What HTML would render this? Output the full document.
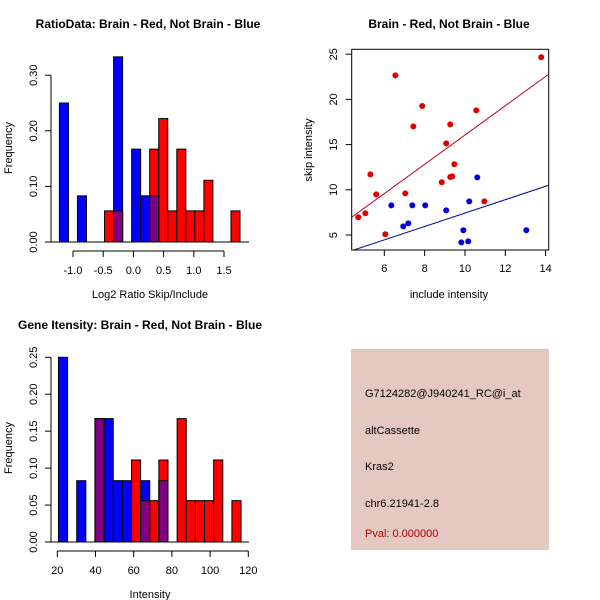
<!DOCTYPE html>
<html><head><meta charset="utf-8"><style>
body{margin:0;background:#fff;}
svg{display:block;font-family:"Liberation Sans",sans-serif;}
</style></head><body>
<svg id="s" width="600" height="600" viewBox="0 0 600 600">
<rect width="600" height="600" fill="#fff"/>
<text x="148" y="28" font-size="12" font-weight="bold" text-anchor="middle">RatioData: Brain - Red, Not Brain - Blue</text>
<text x="150" y="298" font-size="11" text-anchor="middle">Log2 Ratio Skip/Include</text>
<text transform="translate(12,148) rotate(-90)" font-size="11" text-anchor="middle">Frequency</text>
<text x="449" y="28" font-size="12" font-weight="bold" text-anchor="middle">Brain - Red, Not Brain - Blue</text>
<text x="449" y="298" font-size="11" text-anchor="middle">include intensity</text>
<text transform="translate(312,150) rotate(-90)" font-size="11" text-anchor="middle">skip intensity</text>
<text x="140" y="329" font-size="12" font-weight="bold" text-anchor="middle">Gene Itensity: Brain - Red, Not Brain - Blue</text>
<text x="150" y="598" font-size="11" text-anchor="middle">Intensity</text>
<text transform="translate(12,448) rotate(-90)" font-size="11" text-anchor="middle">Frequency</text>
<rect x="351" y="349" width="198" height="201" fill="#e6c8c2"/>
<g font-size="11">
<text x="365" y="397">G7124282@J940241_RC@i_at</text>
<text x="365" y="434">altCassette</text>
<text x="365" y="470">Kras2</text>
<text x="365" y="507">chr6.21941-2.8</text>
<text x="365" y="537" fill="#aa0000">Pval: 0.000000</text>
</g>
</svg>
<script>
// Ratio histogram data (bin index on shared grid)
const ratioBlueBins=[0,2,6,8,9,10];
const ratioBlueFreq=[0.25,0.083,0.333,0.167,0.083,0.083];
const ratioRedBins=[5,6,10,11,12,13,14,15,16,19];
const ratioRedFreq=[0.056,0.056,0.167,0.222,0.056,0.167,0.056,0.056,0.111,0.056];
const ratioXTicks=["-1.0","-0.5","0.0","0.5","1.0","1.5"];
const ratioYTicks=["0.00","0.10","0.20","0.30"];
// Intensity histogram data
const intBlueBins=[0,2,4,5,6,7,9,11];
const intBlueFreq=[0.25,0.083,0.167,0.167,0.083,0.083,0.083,0.083];
const intRedBins=[4,8,9,10,11,13,14,15,16,17,19];
const intRedFreq=[0.167,0.111,0.056,0.056,0.111,0.167,0.056,0.056,0.056,0.111,0.056];
const intXTicks=["20","40","60","80","100","120"];
const intYTicks=["0.00","0.05","0.10","0.15","0.20","0.25"];
// Scatter data
const redX=[4.71,5.06,5.31,5.60,6.05,6.55,7.04,7.44,7.88,8.85,9.07,9.27,9.27,9.37,9.47,10.56,10.96,13.78];
const redY=[6.96,7.40,11.71,9.50,5.08,22.66,9.61,17.02,19.27,10.83,15.14,17.24,11.42,11.49,12.82,18.79,8.72,24.66];
const blueX=[6.35,6.94,7.19,7.39,8.03,9.07,9.82,9.92,10.16,10.21,10.61,13.04];
const blueY=[8.28,5.96,6.29,8.28,8.28,7.73,4.19,5.52,4.30,8.72,11.38,5.52];
const redFit=[-0.13,1.619];
const blueFit=[0.015,0.741];
const scXTicks=["6","8","10","12","14"];
const scYTicks=["5","10","15","20","25"];

const NS="http://www.w3.org/2000/svg";
const svg=document.getElementById('s');
function mk(tag,attrs,parent){const e=document.createElementNS(NS,tag);for(const k in attrs)e.setAttribute(k,attrs[k]);(parent||svg).appendChild(e);return e;}
function txt(x,y,s,attrs){const e=mk('text',Object.assign({x:x,y:y,'font-size':11,'text-anchor':'middle'},attrs||{}));e.textContent=s;return e;}

function hist(cfg){
  const g=mk('g',{});
  
  
  const bx=k=>cfg.x(cfg.e0+k*cfg.w), by=v=>cfg.y0-v*cfg.ys;
  const draw=(bins,freq,col,nm)=>bins.forEach((k,i)=>{
    const r=mk('rect',{x:bx(k),y:by(freq[i]),width:bx(k+1)-bx(k),height:freq[i]*cfg.ys,fill:col,stroke:'#000','stroke-width':1},g);
    
    
  });
  draw(cfg.bb,cfg.bf,'#0000ff','blue-bar');
  draw(cfg.rb,cfg.rf,'#ff0000','red-bar');
  cfg.rb.forEach((k,i)=>{const j=cfg.bb.indexOf(k);if(j>=0){const v=Math.min(cfg.rf[i],cfg.bf[j]);
    const r=mk('rect',{x:bx(k),y:by(v),width:bx(k+1)-bx(k),height:v*cfg.ys,fill:'#800080',stroke:'#000','stroke-width':1},g);
    
    }});
  // baseline
  mk('line',{x1:cfg.left,x2:cfg.right,y1:cfg.y0,y2:cfg.y0,stroke:'#000'},g);
  // y axis
  const yv=cfg.yt.map(Number);
  mk('line',{x1:cfg.ax,x2:cfg.ax,y1:by(yv[0]),y2:by(yv[yv.length-1]),stroke:'#000'},g);
  yv.forEach((v,i)=>{mk('line',{x1:cfg.ax-6,x2:cfg.ax,y1:by(v),y2:by(v),stroke:'#000'},g);
    txt(0,0,cfg.yt[i],{transform:`translate(${cfg.ax-14},${by(v)}) rotate(-90)`,'dominant-baseline':'auto'});});
  // x axis
  const xv=cfg.xt.map(Number);
  mk('line',{x1:cfg.x(xv[0]),x2:cfg.x(xv[xv.length-1]),y1:cfg.xa,y2:cfg.xa,stroke:'#000'},g);
  xv.forEach((v,i)=>{mk('line',{x1:cfg.x(v),x2:cfg.x(v),y1:cfg.xa,y2:cfg.xa+6,stroke:'#000'},g);
    txt(cfg.x(v),cfg.xa+23,cfg.xt[i]);});
}
hist({name:'ratio-histogram',x:v=>73+(v+1)*60.4,e0:-1.225,w:0.1495,y0:242,ys:556,
  bb:ratioBlueBins,bf:ratioBlueFreq,rb:ratioRedBins,rf:ratioRedFreq,xt:ratioXTicks,yt:ratioYTicks,
  ax:51,left:51,right:249,xa:251});
hist({name:'intensity-histogram',x:v=>57.3+(v-20)*1.91,e0:20.6,w:4.78,y0:542,ys:738.8,
  bb:intBlueBins,bf:intBlueFreq,rb:intRedBins,rf:intRedFreq,xt:intXTicks,yt:intYTicks,
  ax:51,left:51,right:249,xa:551});

// scatter
const sx=v=>384.3+(v-6)*20.17, sy=v=>235-(v-5)*9.04;
const sg=mk('g',{});


mk('defs',{},sg).innerHTML='<clipPath id="cp"><rect x="351.7" y="49.3" width="197" height="200.7"/></clipPath>';
const x0=4.38,x1=14.15;
[[redFit,'#c00020','red-fit-line'],[blueFit,'#000099','blue-fit-line']].forEach(([f,c,n])=>{
  const l=mk('line',{x1:sx(x0),y1:sy(f[0]+f[1]*x0),x2:sx(x1),y2:sy(f[0]+f[1]*x1),stroke:c,'stroke-width':1,'clip-path':'url(#cp)'},sg);
  
  
});
redX.forEach((x,i)=>{const c=mk('circle',{cx:sx(x),cy:sy(redY[i]),r:3,fill:'#e00000'},sg);
  
  });
blueX.forEach((x,i)=>{const c=mk('circle',{cx:sx(x),cy:sy(blueY[i]),r:3,fill:'#0000dd'},sg);
  
  });
mk('rect',{x:351.7,y:49.3,width:197,height:200.7,fill:'none',stroke:'#000'},sg);
scXTicks.forEach(t=>{const v=Number(t);mk('line',{x1:sx(v),x2:sx(v),y1:250,y2:256,stroke:'#000'},sg);txt(sx(v),272,t);});
scYTicks.forEach(t=>{const v=Number(t);mk('line',{x1:345.7,x2:351.7,y1:sy(v),y2:sy(v),stroke:'#000'},sg);
  txt(0,0,t,{transform:`translate(337,${sy(v)}) rotate(-90)`});});
</script>
</body></html>
